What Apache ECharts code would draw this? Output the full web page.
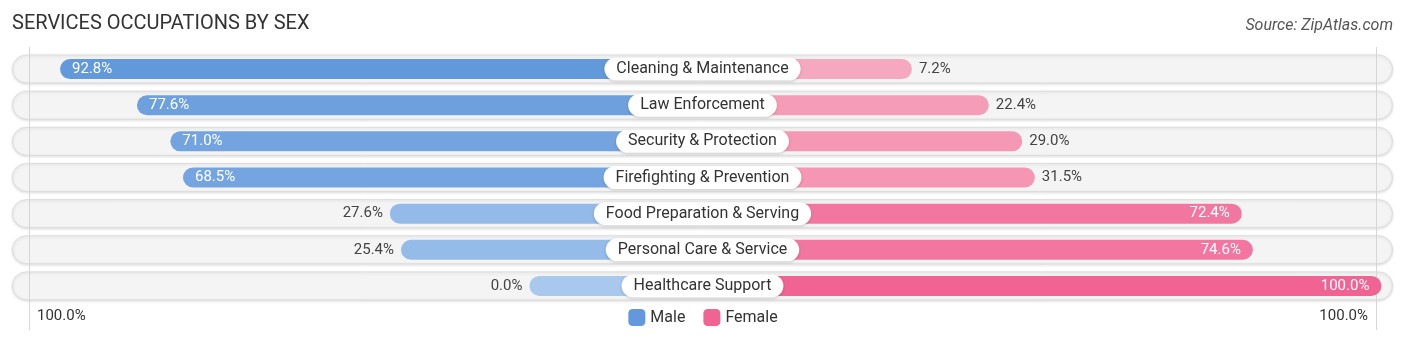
<!DOCTYPE html>
<html>
<head>
<meta charset="utf-8">
<script src="https://cdn.jsdelivr.net/npm/echarts@6/dist/echarts.min.js"></script>
<style>
html,body{margin:0;padding:0;background:#fff;}
#chart{width:1406px;height:341px;}
</style>
</head>
<body>
<div id="chart"></div>
<script>
const categories = ['Cleaning & Maintenance','Law Enforcement','Security & Protection','Firefighting & Prevention','Food Preparation & Serving','Personal Care & Service','Healthcare Support'];
const maleValues = [92.8, 77.6, 71.0, 68.5, 27.6, 25.4, 0.0];
const femaleValues = [7.2, 22.4, 29.0, 31.5, 72.4, 74.6, 100.0];
const axisEndLabels = ['100.0%', '100.0%'];
const seriesNames = ['Male', 'Female'];

const OFF = 34.2;      // bar length reserved behind the centre label
const M = 136.5;       // half-range of the value axis
const LINE_V = 133.2;  // faint vertical guide lines
const FONT = 'Roboto, "Open Sans", sans-serif';

function mix(a, b, t) {
  return 'rgb(' + a.map((c, i) => Math.round(c + (b[i] - c) * t)).join(',') + ')';
}
function maleColor(v) { return mix([168, 200, 238], [93, 149, 218], v / 100); }
function femaleColor(v) { return mix([246, 173, 196], [240, 99, 146], v / 100); }

const chart = echarts.init(document.getElementById('chart'), null, {renderer: 'canvas'});

const maleData = maleValues.map((v) => {
  const inside = v >= 50;
  return {
    value: -(v + OFF),
    itemStyle: {color: maleColor(v)},
    label: {
      position: inside ? 'insideLeft' : 'left',
      distance: inside ? 12 : 7,
      color: inside ? '#ffffff' : '#444444'
    }
  };
});
const femaleData = femaleValues.map((v) => {
  const inside = v >= 50;
  return {
    value: v + OFF,
    itemStyle: {color: femaleColor(v)},
    label: {
      position: inside ? 'insideRight' : 'right',
      distance: inside ? 12 : 7,
      color: inside ? '#ffffff' : '#444444'
    }
  };
});

const option = {
  backgroundColor: '#ffffff',
  animation: false,
  title: [
    {text: 'SERVICES OCCUPATIONS BY SEX', left: 12, top: 14, padding: 0,
     textStyle: {fontFamily: FONT, fontSize: 20, fontWeight: 'normal', color: '#333333'}},
    {text: 'Source: ZipAtlas.com', right: 13, top: 18, padding: 0,
     textStyle: {fontFamily: FONT, fontSize: 16, fontStyle: 'italic', fontWeight: 'normal', color: '#555555'}}
  ],
  legend: {
    data: seriesNames,
    left: 'center',
    top: 309,
    padding: 0,
    icon: 'roundRect',
    itemWidth: 17,
    itemHeight: 17,
    itemGap: 18,
    textStyle: {fontFamily: FONT, fontSize: 16, color: '#333333'}
  },
  grid: {left: 12, right: 13, top: 51, bottom: 37, containLabel: false},
  xAxis: {type: 'value', min: -M, max: M, show: false},
  yAxis: {type: 'category', data: categories, inverse: true, show: false},
  graphic: [
    {type: 'text', left: 37, top: 309, style: {text: axisEndLabels[0], font: '15px ' + FONT, fill: '#333333'}},
    {type: 'text', right: 38, top: 309, style: {text: axisEndLabels[1], font: '15px ' + FONT, fill: '#333333'}}
  ],
  series: [
    {
      type: 'custom',
      name: 'bg',
      z: 1,
      silent: true,
      encode: {x: 0, y: 1},
      data: categories.map((c, i) => [0, i]),
      renderItem: function (params, api) {
        const y = api.coord([0, api.value(1)])[1];
        const x0 = api.coord([-M, 0])[0];
        const x1 = api.coord([M, 0])[0];
        return {
          type: 'rect',
          shape: {x: x0 + 0.5, y: y - 14, width: x1 - x0 - 1, height: 28, r: 14},
          style: {fill: '#f4f4f4', stroke: '#dddddd', lineWidth: 1,
                  shadowBlur: 3, shadowColor: 'rgba(0,0,0,0.12)', shadowOffsetY: 1}
        };
      }
    },
    {
      type: 'custom',
      name: 'guides',
      z: 2,
      silent: true,
      encode: {x: 0, y: 1},
      data: [[-LINE_V, 0], [LINE_V, 0]],
      renderItem: function (params, api) {
        const x = Math.round(api.coord([api.value(0), 0])[0]) + 0.5;
        return {
          type: 'line',
          shape: {x1: x, y1: 47, x2: x, y2: 330},
          style: {stroke: '#d6d6d6', lineWidth: 1}
        };
      }
    },
    {
      type: 'bar',
      name: seriesNames[0],
      z: 3,
      barWidth: 20,
      barGap: '-100%',
      itemStyle: {color: '#6399dc', borderRadius: 10},
      label: {
        show: true,
        fontFamily: FONT,
        fontSize: 15,
        formatter: (p) => maleValues[p.dataIndex].toFixed(1) + '%'
      },
      data: maleData
    },
    {
      type: 'bar',
      name: seriesNames[1],
      z: 3,
      barWidth: 20,
      barGap: '-100%',
      itemStyle: {color: '#f06392', borderRadius: 10},
      label: {
        show: true,
        fontFamily: FONT,
        fontSize: 15,
        formatter: (p) => femaleValues[p.dataIndex].toFixed(1) + '%'
      },
      data: femaleData
    },
    {
      type: 'scatter',
      name: 'labels',
      z: 5,
      silent: true,
      symbolSize: 1,
      itemStyle: {color: 'rgba(0,0,0,0)', opacity: 1},
      emphasis: {disabled: true},
      label: {
        show: true,
        position: 'inside',
        formatter: (p) => categories[p.dataIndex],
        fontFamily: FONT,
        fontSize: 16,
        lineHeight: 17,
        color: '#333333',
        backgroundColor: '#ffffff',
        borderRadius: 12,
        padding: [4, 12, 2, 12],
        shadowBlur: 3,
        shadowColor: 'rgba(0,0,0,0.18)',
        shadowOffsetY: 1
      },
      data: categories.map((c, i) => [0, i])
    }
  ]
};
chart.setOption(option);
</script>
</body>
</html>
